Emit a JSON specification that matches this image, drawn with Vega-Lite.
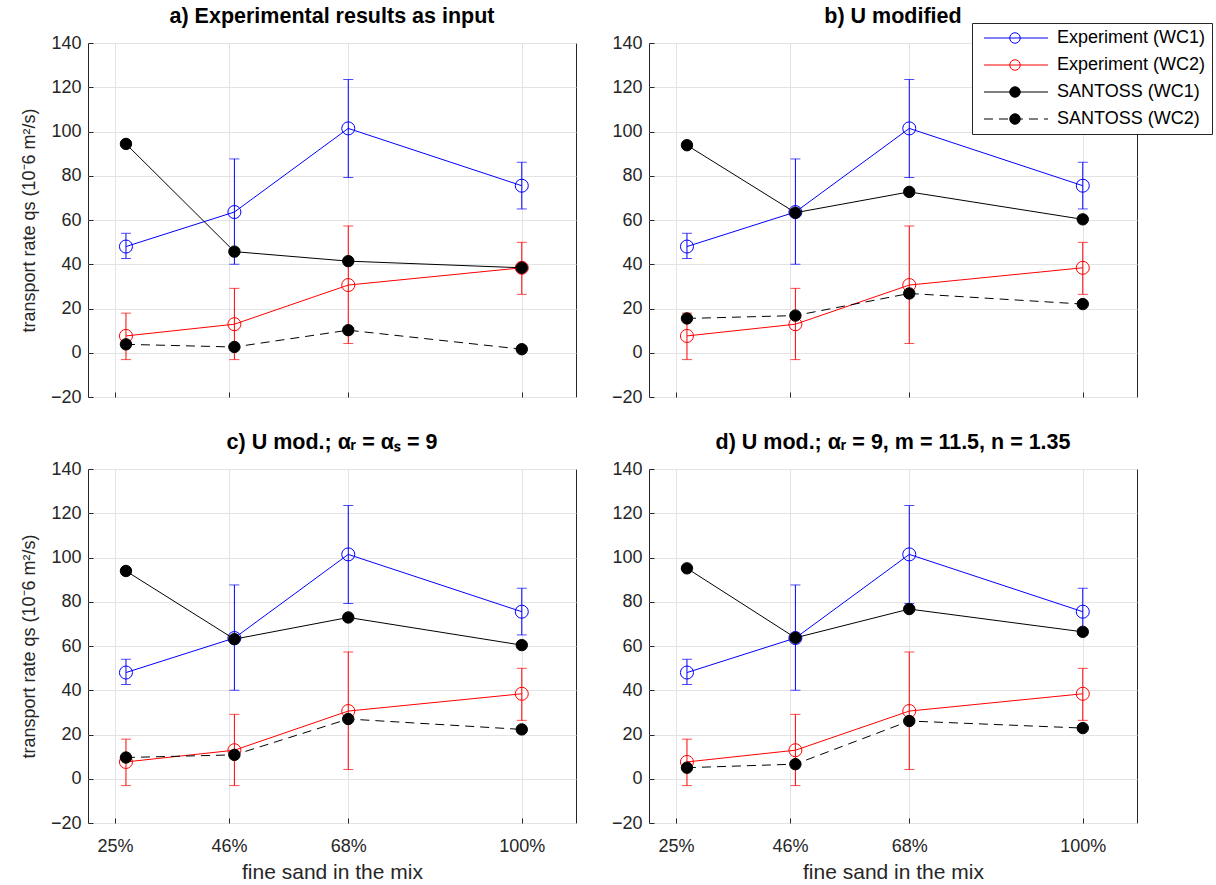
{
  "$schema": "https://vega.github.io/schema/vega-lite/v6.json",
  "padding": {"left": 19, "top": 5, "right": 5, "bottom": 5},
  "background": "white",
  "datasets": {
    "exp": [
      {"series": "Experiment (WC1)", "x": 27, "y": 48.0, "lo": 42.6, "hi": 54.0},
      {"series": "Experiment (WC1)", "x": 47, "y": 63.6, "lo": 40.0, "hi": 87.6},
      {"series": "Experiment (WC1)", "x": 68, "y": 101.4, "lo": 79.2, "hi": 123.5},
      {"series": "Experiment (WC1)", "x": 100, "y": 75.5, "lo": 65.0, "hi": 86.1},
      {"series": "Experiment (WC2)", "x": 27, "y": 7.6, "lo": -3.1, "hi": 17.9},
      {"series": "Experiment (WC2)", "x": 47, "y": 12.9, "lo": -3.1, "hi": 29.1},
      {"series": "Experiment (WC2)", "x": 68, "y": 30.6, "lo": 4.2, "hi": 57.3},
      {"series": "Experiment (WC2)", "x": 100, "y": 38.4, "lo": 26.4, "hi": 49.9}
    ],
    "sim": [
      {"panel": "a", "series": "SANTOSS (WC1)", "x": 27, "y": 94.4},
      {"panel": "a", "series": "SANTOSS (WC1)", "x": 47, "y": 45.7},
      {"panel": "a", "series": "SANTOSS (WC1)", "x": 68, "y": 41.4},
      {"panel": "a", "series": "SANTOSS (WC1)", "x": 100, "y": 38.4},
      {"panel": "a", "series": "SANTOSS (WC2)", "x": 27, "y": 3.8},
      {"panel": "a", "series": "SANTOSS (WC2)", "x": 47, "y": 2.6},
      {"panel": "a", "series": "SANTOSS (WC2)", "x": 68, "y": 10.2},
      {"panel": "a", "series": "SANTOSS (WC2)", "x": 100, "y": 1.6},
      {"panel": "b", "series": "SANTOSS (WC1)", "x": 27, "y": 93.8},
      {"panel": "b", "series": "SANTOSS (WC1)", "x": 47, "y": 63.3},
      {"panel": "b", "series": "SANTOSS (WC1)", "x": 68, "y": 72.7},
      {"panel": "b", "series": "SANTOSS (WC1)", "x": 100, "y": 60.3},
      {"panel": "b", "series": "SANTOSS (WC2)", "x": 27, "y": 15.5},
      {"panel": "b", "series": "SANTOSS (WC2)", "x": 47, "y": 16.8},
      {"panel": "b", "series": "SANTOSS (WC2)", "x": 68, "y": 26.8},
      {"panel": "b", "series": "SANTOSS (WC2)", "x": 100, "y": 22.0},
      {"panel": "c", "series": "SANTOSS (WC1)", "x": 27, "y": 93.9},
      {"panel": "c", "series": "SANTOSS (WC1)", "x": 47, "y": 63.1},
      {"panel": "c", "series": "SANTOSS (WC1)", "x": 68, "y": 72.9},
      {"panel": "c", "series": "SANTOSS (WC1)", "x": 100, "y": 60.4},
      {"panel": "c", "series": "SANTOSS (WC2)", "x": 27, "y": 9.6},
      {"panel": "c", "series": "SANTOSS (WC2)", "x": 47, "y": 10.8},
      {"panel": "c", "series": "SANTOSS (WC2)", "x": 68, "y": 27.0},
      {"panel": "c", "series": "SANTOSS (WC2)", "x": 100, "y": 22.3},
      {"panel": "d", "series": "SANTOSS (WC1)", "x": 27, "y": 95.1},
      {"panel": "d", "series": "SANTOSS (WC1)", "x": 47, "y": 63.7},
      {"panel": "d", "series": "SANTOSS (WC1)", "x": 68, "y": 76.7},
      {"panel": "d", "series": "SANTOSS (WC1)", "x": 100, "y": 66.4},
      {"panel": "d", "series": "SANTOSS (WC2)", "x": 27, "y": 5.0},
      {"panel": "d", "series": "SANTOSS (WC2)", "x": 47, "y": 6.6},
      {"panel": "d", "series": "SANTOSS (WC2)", "x": 68, "y": 26.1},
      {"panel": "d", "series": "SANTOSS (WC2)", "x": 100, "y": 22.9}
    ]
  },
  "columns": 2,
  "spacing": {"row": 72, "column": 73},
  "bounds": "flush",
  "concat": [
    {
      "width": 488, "height": 354,
      "title": {"text": "a) Experimental results as input"},
      "layer": [
        {"data": {"name": "exp"}, "mark": {"type": "rule", "strokeWidth": 1},
         "encoding": {
           "x": {"field": "x", "type": "quantitative", "scale": {"domain": [20, 105]}, "axis": {"values": [25, 46, 68, 100], "labels": false, "title": null}},
           "y": {"field": "lo", "type": "quantitative", "scale": {"domain": [-20, 140]}, "axis": {"values": [-20, 0, 20, 40, 60, 80, 100, 120, 140], "title": "transport rate qs (10⁻6 m²/s)"}},
           "y2": {"field": "hi"},
           "color": {"condition": {"test": "datum.series == 'Experiment (WC1)'", "value": "#0000ff"}, "value": "#ff0000"}}},
        {"data": {"name": "exp"}, "mark": {"type": "tick", "orient": "horizontal", "size": 10, "thickness": 1},
         "encoding": {"x": {"field": "x", "type": "quantitative"}, "y": {"field": "lo", "type": "quantitative"},
           "color": {"condition": {"test": "datum.series == 'Experiment (WC1)'", "value": "#0000ff"}, "value": "#ff0000"}}},
        {"data": {"name": "exp"}, "mark": {"type": "tick", "orient": "horizontal", "size": 10, "thickness": 1},
         "encoding": {"x": {"field": "x", "type": "quantitative"}, "y": {"field": "hi", "type": "quantitative"},
           "color": {"condition": {"test": "datum.series == 'Experiment (WC1)'", "value": "#0000ff"}, "value": "#ff0000"}}},
        {"data": {"name": "exp"}, "mark": {"type": "line", "strokeWidth": 1},
         "encoding": {"x": {"field": "x", "type": "quantitative"}, "y": {"field": "y", "type": "quantitative"},
           "color": {"field": "series", "type": "nominal", "scale": {"domain": ["Experiment (WC1)", "Experiment (WC2)", "SANTOSS (WC1)", "SANTOSS (WC2)"], "range": ["#0000ff", "#ff0000", "#000000", "#000000"]},
             "legend": {"title": null, "orient": "none", "legendX": 884, "legendY": -20, "symbolType": "M-5,0H5", "symbolSize": 164, "symbolStrokeWidth": 1, "symbolOffset": 29, "labelOffset": 32, "fillColor": "white", "strokeColor": "#262626", "padding": 6, "labelFontSize": 18, "rowPadding": 9, "labelColor": "#000000"}},
           "strokeDash": {"field": "series", "type": "nominal", "scale": {"domain": ["Experiment (WC1)", "Experiment (WC2)", "SANTOSS (WC1)", "SANTOSS (WC2)"], "range": [[10000, 1], [10000, 1], [10000, 1], [9, 6]]}}}},
        {"data": {"name": "exp"}, "mark": {"type": "point", "size": 170, "strokeWidth": 1, "opacity": 1},
         "encoding": {"x": {"field": "x", "type": "quantitative"}, "y": {"field": "y", "type": "quantitative"},
           "stroke": {"field": "series", "type": "nominal", "scale": {"range": ["#0000ff", "#ff0000", "#000000", "#000000"]},
             "legend": {"title": null, "orient": "none", "legendX": 884, "legendY": -20, "symbolType": "circle", "symbolSize": 110, "symbolStrokeWidth": 1, "symbolOffset": 28, "labelExpr": "''", "padding": 6, "labelFontSize": 18, "rowPadding": 9}},
           "fill": {"field": "series", "type": "nominal", "scale": {"range": ["transparent", "transparent", "#000000", "#000000"]}}}},
        {"data": {"name": "sim"}, "transform": [{"filter": "datum.panel == 'a'"}], "mark": {"type": "line", "strokeWidth": 1},
         "encoding": {"x": {"field": "x", "type": "quantitative"}, "y": {"field": "y", "type": "quantitative"},
           "color": {"field": "series", "type": "nominal"},
           "strokeDash": {"field": "series", "type": "nominal"}}},
        {"data": {"name": "sim"}, "transform": [{"filter": "datum.panel == 'a'"}], "mark": {"type": "point", "size": 130, "strokeWidth": 1, "opacity": 1},
         "encoding": {"x": {"field": "x", "type": "quantitative"}, "y": {"field": "y", "type": "quantitative"},
           "stroke": {"field": "series", "type": "nominal"},
           "fill": {"field": "series", "type": "nominal"}}}
      ]
    },
    {
      "width": 488, "height": 354,
      "title": {"text": "b) U modified"},
      "layer": [
        {"data": {"name": "exp"}, "mark": {"type": "rule", "strokeWidth": 1},
         "encoding": {
           "x": {"field": "x", "type": "quantitative", "scale": {"domain": [20, 105]}, "axis": {"values": [25, 46, 68, 100], "labels": false, "title": null}},
           "y": {"field": "lo", "type": "quantitative", "scale": {"domain": [-20, 140]}, "axis": {"values": [-20, 0, 20, 40, 60, 80, 100, 120, 140], "title": null}},
           "y2": {"field": "hi"},
           "color": {"condition": {"test": "datum.series == 'Experiment (WC1)'", "value": "#0000ff"}, "value": "#ff0000"}}},
        {"data": {"name": "exp"}, "mark": {"type": "tick", "orient": "horizontal", "size": 10, "thickness": 1},
         "encoding": {"x": {"field": "x", "type": "quantitative"}, "y": {"field": "lo", "type": "quantitative"},
           "color": {"condition": {"test": "datum.series == 'Experiment (WC1)'", "value": "#0000ff"}, "value": "#ff0000"}}},
        {"data": {"name": "exp"}, "mark": {"type": "tick", "orient": "horizontal", "size": 10, "thickness": 1},
         "encoding": {"x": {"field": "x", "type": "quantitative"}, "y": {"field": "hi", "type": "quantitative"},
           "color": {"condition": {"test": "datum.series == 'Experiment (WC1)'", "value": "#0000ff"}, "value": "#ff0000"}}},
        {"data": {"name": "exp"}, "mark": {"type": "line", "strokeWidth": 1},
         "encoding": {"x": {"field": "x", "type": "quantitative"}, "y": {"field": "y", "type": "quantitative"},
           "color": {"field": "series", "type": "nominal"},
           "strokeDash": {"field": "series", "type": "nominal"}}},
        {"data": {"name": "exp"}, "mark": {"type": "point", "size": 170, "strokeWidth": 1, "opacity": 1},
         "encoding": {"x": {"field": "x", "type": "quantitative"}, "y": {"field": "y", "type": "quantitative"},
           "stroke": {"field": "series", "type": "nominal"},
           "fill": {"field": "series", "type": "nominal"}}},
        {"data": {"name": "sim"}, "transform": [{"filter": "datum.panel == 'b'"}], "mark": {"type": "line", "strokeWidth": 1},
         "encoding": {"x": {"field": "x", "type": "quantitative"}, "y": {"field": "y", "type": "quantitative"},
           "color": {"field": "series", "type": "nominal"},
           "strokeDash": {"field": "series", "type": "nominal"}}},
        {"data": {"name": "sim"}, "transform": [{"filter": "datum.panel == 'b'"}], "mark": {"type": "point", "size": 130, "strokeWidth": 1, "opacity": 1},
         "encoding": {"x": {"field": "x", "type": "quantitative"}, "y": {"field": "y", "type": "quantitative"},
           "stroke": {"field": "series", "type": "nominal"},
           "fill": {"field": "series", "type": "nominal"}}}
      ]
    },
    {
      "width": 488, "height": 354,
      "title": {"text": "c) U mod.;  αᵣ = αₛ = 9"},
      "layer": [
        {"data": {"name": "exp"}, "mark": {"type": "rule", "strokeWidth": 1},
         "encoding": {
           "x": {"field": "x", "type": "quantitative", "scale": {"domain": [20, 105]}, "axis": {"values": [25, 46, 68, 100], "labelExpr": "datum.value + '%'", "title": "fine sand in the mix"}},
           "y": {"field": "lo", "type": "quantitative", "scale": {"domain": [-20, 140]}, "axis": {"values": [-20, 0, 20, 40, 60, 80, 100, 120, 140], "title": "transport rate qs (10⁻6 m²/s)"}},
           "y2": {"field": "hi"},
           "color": {"condition": {"test": "datum.series == 'Experiment (WC1)'", "value": "#0000ff"}, "value": "#ff0000"}}},
        {"data": {"name": "exp"}, "mark": {"type": "tick", "orient": "horizontal", "size": 10, "thickness": 1},
         "encoding": {"x": {"field": "x", "type": "quantitative"}, "y": {"field": "lo", "type": "quantitative"},
           "color": {"condition": {"test": "datum.series == 'Experiment (WC1)'", "value": "#0000ff"}, "value": "#ff0000"}}},
        {"data": {"name": "exp"}, "mark": {"type": "tick", "orient": "horizontal", "size": 10, "thickness": 1},
         "encoding": {"x": {"field": "x", "type": "quantitative"}, "y": {"field": "hi", "type": "quantitative"},
           "color": {"condition": {"test": "datum.series == 'Experiment (WC1)'", "value": "#0000ff"}, "value": "#ff0000"}}},
        {"data": {"name": "exp"}, "mark": {"type": "line", "strokeWidth": 1},
         "encoding": {"x": {"field": "x", "type": "quantitative"}, "y": {"field": "y", "type": "quantitative"},
           "color": {"field": "series", "type": "nominal"},
           "strokeDash": {"field": "series", "type": "nominal"}}},
        {"data": {"name": "exp"}, "mark": {"type": "point", "size": 170, "strokeWidth": 1, "opacity": 1},
         "encoding": {"x": {"field": "x", "type": "quantitative"}, "y": {"field": "y", "type": "quantitative"},
           "stroke": {"field": "series", "type": "nominal"},
           "fill": {"field": "series", "type": "nominal"}}},
        {"data": {"name": "sim"}, "transform": [{"filter": "datum.panel == 'c'"}], "mark": {"type": "line", "strokeWidth": 1},
         "encoding": {"x": {"field": "x", "type": "quantitative"}, "y": {"field": "y", "type": "quantitative"},
           "color": {"field": "series", "type": "nominal"},
           "strokeDash": {"field": "series", "type": "nominal"}}},
        {"data": {"name": "sim"}, "transform": [{"filter": "datum.panel == 'c'"}], "mark": {"type": "point", "size": 130, "strokeWidth": 1, "opacity": 1},
         "encoding": {"x": {"field": "x", "type": "quantitative"}, "y": {"field": "y", "type": "quantitative"},
           "stroke": {"field": "series", "type": "nominal"},
           "fill": {"field": "series", "type": "nominal"}}}
      ]
    },
    {
      "width": 488, "height": 354,
      "title": {"text": "d) U mod.; αᵣ = 9, m = 11.5, n = 1.35"},
      "layer": [
        {"data": {"name": "exp"}, "mark": {"type": "rule", "strokeWidth": 1},
         "encoding": {
           "x": {"field": "x", "type": "quantitative", "scale": {"domain": [20, 105]}, "axis": {"values": [25, 46, 68, 100], "labelExpr": "datum.value + '%'", "title": "fine sand in the mix"}},
           "y": {"field": "lo", "type": "quantitative", "scale": {"domain": [-20, 140]}, "axis": {"values": [-20, 0, 20, 40, 60, 80, 100, 120, 140], "title": null}},
           "y2": {"field": "hi"},
           "color": {"condition": {"test": "datum.series == 'Experiment (WC1)'", "value": "#0000ff"}, "value": "#ff0000"}}},
        {"data": {"name": "exp"}, "mark": {"type": "tick", "orient": "horizontal", "size": 10, "thickness": 1},
         "encoding": {"x": {"field": "x", "type": "quantitative"}, "y": {"field": "lo", "type": "quantitative"},
           "color": {"condition": {"test": "datum.series == 'Experiment (WC1)'", "value": "#0000ff"}, "value": "#ff0000"}}},
        {"data": {"name": "exp"}, "mark": {"type": "tick", "orient": "horizontal", "size": 10, "thickness": 1},
         "encoding": {"x": {"field": "x", "type": "quantitative"}, "y": {"field": "hi", "type": "quantitative"},
           "color": {"condition": {"test": "datum.series == 'Experiment (WC1)'", "value": "#0000ff"}, "value": "#ff0000"}}},
        {"data": {"name": "exp"}, "mark": {"type": "line", "strokeWidth": 1},
         "encoding": {"x": {"field": "x", "type": "quantitative"}, "y": {"field": "y", "type": "quantitative"},
           "color": {"field": "series", "type": "nominal"},
           "strokeDash": {"field": "series", "type": "nominal"}}},
        {"data": {"name": "exp"}, "mark": {"type": "point", "size": 170, "strokeWidth": 1, "opacity": 1},
         "encoding": {"x": {"field": "x", "type": "quantitative"}, "y": {"field": "y", "type": "quantitative"},
           "stroke": {"field": "series", "type": "nominal"},
           "fill": {"field": "series", "type": "nominal"}}},
        {"data": {"name": "sim"}, "transform": [{"filter": "datum.panel == 'd'"}], "mark": {"type": "line", "strokeWidth": 1},
         "encoding": {"x": {"field": "x", "type": "quantitative"}, "y": {"field": "y", "type": "quantitative"},
           "color": {"field": "series", "type": "nominal"},
           "strokeDash": {"field": "series", "type": "nominal"}}},
        {"data": {"name": "sim"}, "transform": [{"filter": "datum.panel == 'd'"}], "mark": {"type": "point", "size": 130, "strokeWidth": 1, "opacity": 1},
         "encoding": {"x": {"field": "x", "type": "quantitative"}, "y": {"field": "y", "type": "quantitative"},
           "stroke": {"field": "series", "type": "nominal"},
           "fill": {"field": "series", "type": "nominal"}}}
      ]
    }
  ],
  "config": {
    "font": "Liberation Sans",
    "view": {"stroke": "#262626", "strokeWidth": 1},
    "axis": {"labelFontSize": 18, "labelColor": "#262626", "titleFontSize": 21, "titleFontWeight": "normal", "titleColor": "#262626", "gridColor": "#e3e3e3", "gridOpacity": 1, "ticks": true, "tickSize": -5, "tickColor": "#262626", "domain": false, "labelPadding": 12},
    "axisY": {"titleFontSize": 18, "titlePadding": 12},
    "axisX": {"titlePadding": 6, "labelPadding": 19},
    "title": {"fontSize": 21.5, "fontWeight": "bold", "color": "#000000", "offset": 7},
    "legend": {"title": null}
  }
}
